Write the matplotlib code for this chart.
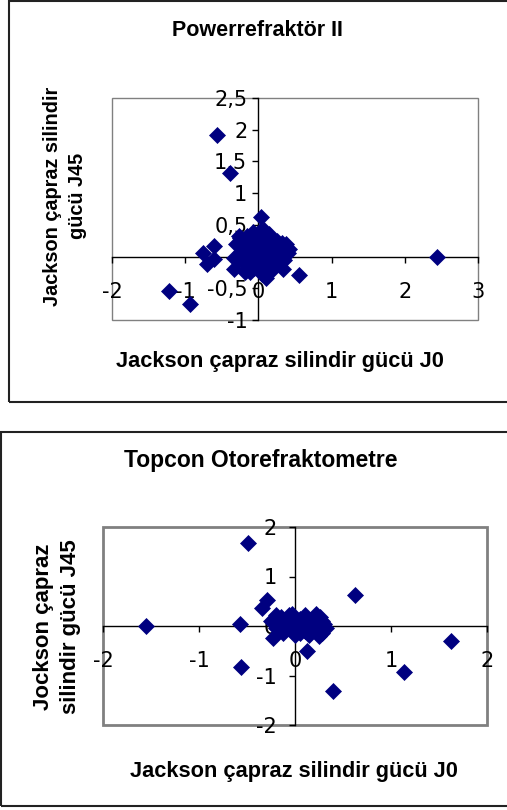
import matplotlib
matplotlib.use("Agg")
import matplotlib.pyplot as plt
from matplotlib.patches import Rectangle
from matplotlib.ticker import FixedLocator

plt.rcParams['font.family'] = ['Liberation Sans', 'DejaVu Sans']

# ---- Data: Powerrefraktör II ----
top_j0 = [-0.57, -0.39, 0.04, 2.44, -1.22, -0.94, 0.56, -0.75, -0.61, -0.70,
          -0.61, -0.34, -0.34, -0.27, -0.18, 0.34, 0.11,
          -0.25, -0.15, -0.05, 0.05, 0.15, 0.25, 0.35, 0.40, -0.20, -0.10,
          0.00, 0.10, 0.20, 0.30, -0.15, -0.05, 0.05, 0.15, 0.25, -0.20,
          -0.10, 0.00, 0.10, 0.20, 0.05, -0.12, 0.28, -0.02, 0.12, 0.35,
          -0.25, 0.42, -0.30, -0.28, -0.08, 0.02, 0.18, 0.32, 0.08, -0.18,
          0.22, 0.38, -0.06, 0.14, 0.26, -0.22, 0.00, 0.16]
top_j45 = [1.91, 1.32, 0.63, 0.00, -0.54, -0.75, -0.29, 0.06, 0.17, -0.12,
           -0.04, -0.02, -0.20, 0.32, -0.25, -0.20, -0.33,
           0.30, 0.32, 0.25, 0.30, 0.35, 0.25, 0.15, 0.05, 0.15, 0.10,
           0.15, 0.20, 0.10, 0.00, 0.00, -0.05, 0.00, -0.05, -0.10, -0.10,
           -0.15, -0.20, -0.15, -0.20, -0.28, -0.25, 0.20, 0.05, 0.08, -0.05,
           0.05, 0.12, 0.20, -0.05, 0.38, 0.40, 0.28, 0.22, 0.42, 0.22,
           0.02, 0.20, -0.18, -0.22, 0.08, 0.05, -0.10, 0.12]

# ---- Data: Topcon Otorefraktometre ----
bot_j0 = [-0.49, -1.55, -0.57, -0.56, -0.29, -0.34, 0.63, 1.63, 1.14, 0.40,
          0.13, -0.23,
          -0.22, -0.15, -0.05, 0.05, 0.12, 0.22, 0.28, -0.18, -0.08, 0.00,
          0.08, 0.18, 0.25, 0.30, -0.20, -0.10, 0.02, 0.10, 0.20, 0.28,
          -0.12, 0.05, 0.15, 0.25, -0.03, 0.10, 0.22, -0.25, -0.14, -0.02,
          0.06, 0.16, 0.26, -0.06, 0.14, 0.32, -0.20, 0.00]
bot_j45 = [1.67, 0.00, 0.05, -0.82, 0.52, 0.36, 0.62, -0.30, -0.92, -1.31,
           -0.50, -0.25,
           0.15, 0.18, 0.15, 0.15, 0.12, 0.15, 0.10, 0.05, 0.02, 0.05,
           0.00, 0.02, 0.00, 0.05, -0.05, -0.08, -0.05, -0.10, -0.08, -0.15,
           -0.15, -0.15, -0.18, -0.20, 0.25, 0.22, 0.25, 0.10, 0.08, -0.12,
           0.08, 0.08, 0.18, 0.22, -0.05, -0.05, 0.22, -0.18]

top_xticks = [-2, -1, 0, 1, 2, 3]
top_xlabels = ['-2', '-1', '0', '1', '2', '3']
top_yticks = [-1, -0.5, 0, 0.5, 1, 1.5, 2, 2.5]
top_ylabels = ['-1', '-0,5', '0', '0,5', '1', '1,5', '2', '2,5']
bot_xticks = [-2, -1, 0, 1, 2]
bot_xlabels = ['-2', '-1', '0', '1', '2']
bot_yticks = [-2, -1, 0, 1, 2]
bot_ylabels = ['-2', '-1', '0', '1', '2']

W, H = 507, 810
fig = plt.figure(figsize=(W / 100, H / 100), dpi=100)

def fx(px):
    return px / W

def fy(py):
    return 1 - py / H

navy = '#000080'
tickfont = ['DejaVu Sans']

# Outer chart frames
fig.patches.append(Rectangle((fx(9), fy(402)), fx(520) - fx(9), fy(1) - fy(402),
                             transform=fig.transFigure, fill=False,
                             edgecolor='#222222', lw=1.5))
fig.patches.append(Rectangle((fx(1), fy(806)), fx(520) - fx(1), fy(432) - fy(806),
                             transform=fig.transFigure, fill=False,
                             edgecolor='#222222', lw=1.5))


def setup(ax, xt, xl, yt, yl, xlim, ylim, fs, border_lw, xpad, ypad):
    ax.set_xlim(*xlim)
    ax.set_ylim(*ylim)
    for s in ['top', 'right']:
        ax.spines[s].set_visible(False)
    ax.spines['left'].set_position(('data', 0))
    ax.spines['bottom'].set_position(('data', 0))
    ax.spines['left'].set_color('black')
    ax.spines['bottom'].set_color('black')
    ax.spines['left'].set_linewidth(1)
    ax.spines['bottom'].set_linewidth(1)
    ax.xaxis.set_major_locator(FixedLocator(xt))
    ax.set_xticklabels(xl, family=tickfont)
    ax.yaxis.set_major_locator(FixedLocator(yt))
    ax.set_yticklabels(yl, family=tickfont)
    ax.tick_params(axis='x', direction='out', length=4.5, width=1,
                   labelsize=fs, pad=xpad)
    ax.tick_params(axis='y', direction='out', length=4, width=1,
                   labelsize=fs, pad=ypad)
    ax.add_patch(Rectangle((0, 0), 1, 1, transform=ax.transAxes, fill=False,
                           edgecolor='#808080', lw=border_lw, clip_on=False,
                           zorder=0.5))


# Top chart
ax1 = fig.add_axes([fx(112), fy(320), fx(478) - fx(112), fy(98) - fy(320)])
setup(ax1, top_xticks, top_xlabels, top_yticks, top_ylabels,
      (-2, 3), (-1, 2.5), 15, 1.0, 13.5, 4)
ax1.plot(top_j0, top_j45, linestyle='none', marker='D', ms=7.8,
         color=navy, mec=navy, mew=0.5, clip_on=False, zorder=3)

fig.text(fx(257), fy(30), 'Powerrefraktör II', ha='center', va='center',
         fontsize=15.5, fontweight='bold')
fig.text(fx(280), fy(362), 'Jackson çapraz silindir gücü J0', ha='center',
         va='center', fontsize=15.7, fontweight='bold')
fig.text(fx(65), fy(196), 'Jackson çapraz silindir\ngücü J45', ha='center',
         va='center', rotation=90, fontsize=14.3, fontweight='bold',
         linespacing=1.45, multialignment='center')

# Bottom chart
ax2 = fig.add_axes([fx(103), fy(725), fx(487) - fx(103), fy(527) - fy(725)])
setup(ax2, bot_xticks, bot_xlabels, bot_yticks, bot_ylabels,
      (-2, 2), (-2, 2), 15, 2.0, 13.5, 9)
ax2.plot(bot_j0, bot_j45, linestyle='none', marker='D', ms=7.8,
         color=navy, mec=navy, mew=0.5, clip_on=False, zorder=3)

fig.text(fx(261), fy(461), 'Topcon Otorefraktometre', ha='center',
         va='center', fontsize=16.5, fontweight='bold')
fig.text(fx(294), fy(772), 'Jackson çapraz silindir gücü J0', ha='center',
         va='center', fontsize=15.7, fontweight='bold')
fig.text(fx(57), fy(627), 'Jockson çapraz\nsilindir gücü J45', ha='center',
         va='center', rotation=90, fontsize=16, fontweight='bold',
         linespacing=1.32, multialignment='center')

fig.savefig('out.png', dpi=100)
